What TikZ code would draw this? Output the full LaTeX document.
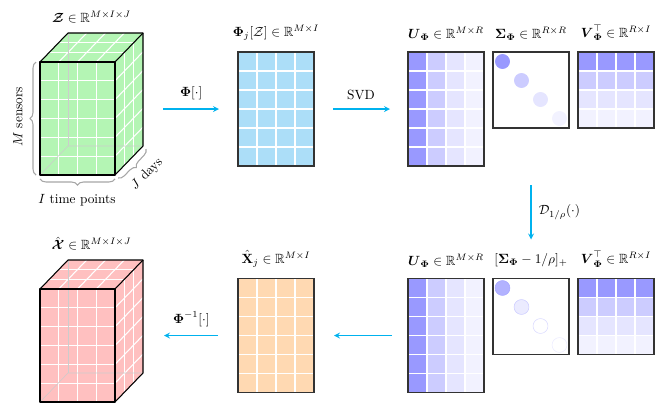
\documentclass[tikz,border=0pt]{standalone}
\usepackage{amssymb}
\usepackage{amsmath}
\usepackage{tikz}
\usetikzlibrary{arrows, positioning, calc, decorations.pathreplacing}
\definecolor{zgreen}{RGB}{180,245,180}
\definecolor{xpink}{RGB}{255,192,192}
\definecolor{phiblue}{RGB}{172,222,248}
\definecolor{xorange}{RGB}{255,217,178}
\definecolor{arrowcyan}{RGB}{0,178,238}
\tikzstyle{face} = [rectangle, minimum width=56.25pt, minimum height=84.75pt, inner sep=0pt, outer sep=0pt]
\tikzstyle{mat} = [rectangle, minimum width=57pt, minimum height=85.5pt, inner sep=0pt, outer sep=0pt]
\tikzstyle{sq} = [mat, minimum height=57pt]
\tikzstyle{frame} = [draw=black!80, line width=0.9pt]
\tikzstyle{edge} = [draw=black, line width=0.8pt, line join=round]
\tikzstyle{hidden} = [draw=black!20, line width=0.4pt]
\tikzstyle{gridline} = [white, line width=0.8pt]
\tikzstyle{bracegray} = [draw=black!35, line width=0.8pt, decorate, decoration={brace, amplitude=4.5pt}]
\tikzstyle{arrow} = [line width=1pt, ->, >=stealth, arrowcyan]

\begin{document}
\begin{tikzpicture}[x=0.75pt, y=-0.75pt]
\useasboundingbox (0,0) rectangle (664,411);

% the two data cubes
\foreach \n/\t/\col in {zcube/62/zgreen, xcube/289/xpink} {
  \node (\n) [face, fill=\col] at (77.5,\t+56.5) {};
  \fill[\col] (\n.north west) -- ++(28,-29) -- ++(75,0) -- (\n.north east) -- cycle;
  \fill[\col] (\n.north east) -- ++(28,-29) -- ++(0,113) -- (\n.south east) -- cycle;
  \foreach \i in {1,2,3} {
    \draw[gridline] ($(\n.north west)!\i/4!(\n.north east)$) -- ($(\n.south west)!\i/4!(\n.south east)$);
    \draw[gridline] ($(\n.north west)!\i/4!(\n.north east)$) -- ++(28,-29);
  }
  \foreach \i in {1,...,5} {
    \draw[gridline] ($(\n.north west)!\i/6!(\n.south west)$) -- ($(\n.north east)!\i/6!(\n.south east)$);
    \draw[gridline] ($(\n.north east)!\i/6!(\n.south east)$) -- ++(28,-29);
  }
  \foreach \k in {1,2} {
    \draw[gridline] ([shift={({\k*28/3},{-\k*29/3})}]\n.north west) -- ++(75,0);
    \draw[gridline] ([shift={({\k*28/3},{-\k*29/3})}]\n.north east) -- ++(0,113);
  }
  \draw[hidden] (\n.south west) -- ++(28,-29) -- ++(75,0);
  \draw[hidden] ([shift={(28,-29)}]\n.south west) -- ++(0,-113);
  \draw[edge] (\n.north west) rectangle (\n.south east);
  \draw[edge] (\n.north west) -- ++(28,-29) -- ++(75,0) -- ++(0,113) -- (\n.south east);
  \draw[edge] (\n.north east) -- ++(28,-29);
}

% braces on the input cube
\draw[bracegray] ([xshift=-3pt]zcube.south west) -- ([xshift=-3pt]zcube.north west);
\draw[bracegray] ([yshift=-3pt]zcube.south east) -- ([yshift=-3pt]zcube.south west);
\draw[bracegray] ([shift={(31,-26)}]zcube.south east) -- ([shift={(3,3)}]zcube.south east);
\node (lm) [rotate=90] at (18,117) {$M$ sensors};
\node (li) at (77,200) {$I$ time points};
\node (lj) [rotate=45] at (147,174) {$J$ days};

% matrices
\node (phiz) [mat, fill=phiblue] at (276,109) {};
\node (u1) [mat] at (446,109) {};
\node (s1) [sq] at (531,90) {};
\node (v1) [sq] at (616,90) {};
\node (u2) [mat] at (446,335.5) {};
\node (s2) [sq] at (531,316.5) {};
\node (v2) [sq] at (616,316.5) {};
\node (xhat) [mat, fill=xorange] at (276,335.5) {};

\foreach \u in {u1,u2}
  \foreach \c/\d/\s in {0/1/40, 1/2/20, 2/3/10, 3/4/5}
    \fill[blue!\s] ($(\u.north west)!\c/4!(\u.north east)$) rectangle ($(\u.south west)!\d/4!(\u.south east)$);
\foreach \v in {v1,v2}
  \foreach \c/\d/\s in {0/1/40, 1/2/20, 2/3/10, 3/4/5}
    \fill[blue!\s] ($(\v.north west)!\c/4!(\v.south west)$) rectangle ($(\v.north east)!\d/4!(\v.south east)$);

\foreach \k/\s in {0/40, 1/20, 2/10, 3/5}
  \fill[blue!\s] ([shift={({9.5+19*\k},{9.5+19*\k})}]s1.north west) circle (5.6pt);
\filldraw[fill=blue!30, draw=blue!35] ([shift={(9.5,9.5)}]s2.north west) circle (5.6pt);
\filldraw[fill=blue!8, draw=blue!20] ([shift={(28.5,28.5)}]s2.north west) circle (5.6pt);
\draw[blue!15] ([shift={(47.5,47.5)}]s2.north west) circle (5.6pt);
\draw[blue!8] ([shift={(66.5,66.5)}]s2.north west) circle (5.6pt);

\foreach \m/\r in {phiz/5, u1/5, u2/5, xhat/5, v1/3, v2/3} {
  \foreach \i in {1,2,3}
    \draw[gridline] ($(\m.north west)!\i/4!(\m.north east)$) -- ($(\m.south west)!\i/4!(\m.south east)$);
  \pgfmathtruncatemacro\rr{\r+1}
  \foreach \i in {1,...,\r}
    \draw[gridline] ($(\m.north west)!\i/\rr!(\m.south west)$) -- ($(\m.north east)!\i/\rr!(\m.south east)$);
}
\foreach \m in {phiz, u1, s1, v1, u2, s2, v2, xhat}
  \draw[frame] (\m.north west) rectangle (\m.south east);

% labels
\node (lz) [above=4pt] at ([shift={(14,-29)}]zcube.north) {$\boldsymbol{\mathcal{Z}}\in\mathbb{R}^{M\times I\times J}$};
\node (lx) [above=4pt] at ([shift={(14,-29)}]xcube.north) {$\hat{\boldsymbol{\mathcal{X}}}\in\mathbb{R}^{M\times I\times J}$};
\node (lphiz) [above=5pt of phiz] {$\boldsymbol{\Phi}_j[\mathcal{Z}]\in\mathbb{R}^{M\times I}$};
\node (lu1) [above=5pt of u1] {$\boldsymbol{U}_{\boldsymbol{\Phi}}\in\mathbb{R}^{M\times R}$};
\node (ls1) [above=5pt of s1] {$\boldsymbol{\Sigma}_{\boldsymbol{\Phi}}\in\mathbb{R}^{R\times R}$};
\node (lv1) [above=5pt of v1] {$\boldsymbol{V}_{\boldsymbol{\Phi}}^{\top}\in\mathbb{R}^{R\times I}$};
\node (lu2) [above=5pt of u2] {$\boldsymbol{U}_{\boldsymbol{\Phi}}\in\mathbb{R}^{M\times R}$};
\node (ls2) [above=5pt of s2] {$[\boldsymbol{\Sigma}_{\boldsymbol{\Phi}}-1/\rho]_+$};
\node (lv2) [above=5pt of v2] {$\boldsymbol{V}_{\boldsymbol{\Phi}}^{\top}\in\mathbb{R}^{R\times I}$};
\node (lxhat) [above=5pt of xhat] {$\hat{\mathbf{X}}_j\in\mathbb{R}^{M\times I}$};

% arrows
\draw [arrow, shorten <=36pt, shorten >=14.25pt] (zcube.east |- phiz) -- node[pos=0.62, above=3pt, black] {$\boldsymbol{\Phi}[\cdot]$} (phiz);
\draw [arrow, shorten <=14.25pt, shorten >=13.5pt] (phiz) -- node[above=3pt, black] {SVD} (u1);
\draw [arrow, shorten <=42.75pt, shorten >=29.25pt] (s1) -- node[pos=0.56, right=2pt, black] {$\mathcal{D}_{1/\rho}(\cdot)$} (s2);
\draw [arrow, shorten <=12pt, shorten >=15pt] (u2) -- (xhat);
\draw [arrow, shorten <=15pt, shorten >=36.75pt] (xhat) -- node[pos=0.38, above=3pt, black] {$\boldsymbol{\Phi}^{-1}[\cdot]$} (xcube.east |- xhat);
\end{tikzpicture}
\end{document}
